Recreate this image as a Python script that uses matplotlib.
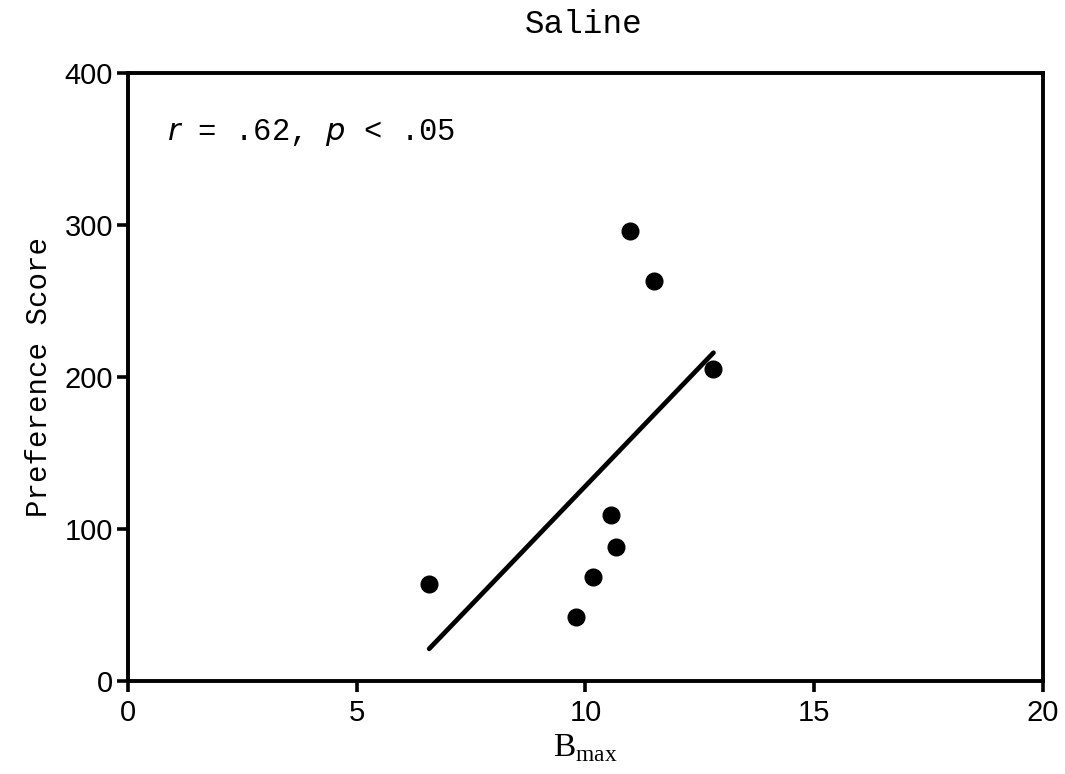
import matplotlib
matplotlib.use("Agg")
import matplotlib.pyplot as plt

# Data
bmax = [6.58, 9.79, 10.17, 10.55, 10.67, 10.97, 11.50, 12.80]
pref = [64, 42, 68, 109, 88, 296, 263, 205]
fit_x = [6.58, 12.80]
fit_y = [21, 216]
xticks = [0, 5, 10, 15, 20]
yticks = [0, 100, 200, 300, 400]

fig = plt.figure(figsize=(10.65, 7.74), dpi=100)
ax = fig.add_axes([0.1205, 0.1205, 0.8585, 0.7848])

ax.plot(fit_x, fit_y, color="black", lw=3.4, solid_capstyle="round")
ax.plot(bmax, pref, "o", color="black", ms=12, mec="black")

ax.set_xlim(0, 20)
ax.set_ylim(0, 400)
ax.set_xticks(xticks)
ax.set_yticks(yticks)
for lab in ax.get_xticklabels() + ax.get_yticklabels():
    lab.set_fontfamily("Liberation Sans")
    lab.set_fontsize(21)
ax.tick_params(direction="out", length=8, width=2.6)
ax.tick_params(axis="x", pad=5)
ax.tick_params(axis="y", pad=3)
for s in ax.spines.values():
    s.set_linewidth(2.8)

fig.text(0.548, 1 - 33 / 774, "Saline", family="Liberation Mono", fontsize=23.5,
         ha="center", va="baseline")
ax.set_ylabel("Preference Score", family="Liberation Mono", fontsize=21, labelpad=8)
ax.set_xlabel(r"B$_{\mathregular{max}}$", family="Liberation Serif", fontsize=24, labelpad=4)

ax.text(0.042, 0.890, r"$\it{r}$ = .62, $\it{p}$ < .05", transform=ax.transAxes,
        family="Liberation Mono", fontsize=22, va="baseline", ha="left")

fig.savefig("out.png", dpi=100)
